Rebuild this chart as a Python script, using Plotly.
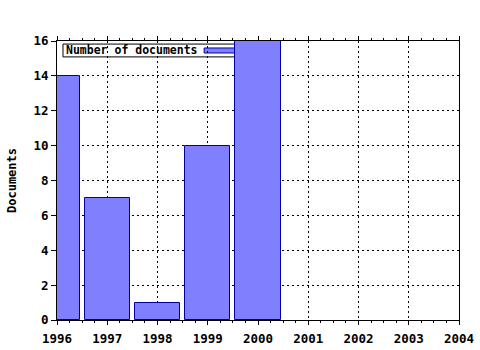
import plotly.graph_objects as go

years = [1996, 1997, 1998, 1999, 2000]
documents = [14, 7, 1, 10, 16]
series_name = "Number of documents"
x_ticks = [1996, 1997, 1998, 1999, 2000, 2001, 2002, 2003, 2004]
y_ticks = [0, 2, 4, 6, 8, 10, 12, 14, 16]

FONT = "DejaVu Sans Mono"
BAR_FILL = "#8080ff"
BAR_LINE = "#0000a0"

fig = go.Figure()
fig.add_trace(go.Bar(
    x=years, y=documents, width=0.9, name=series_name,
    marker=dict(color=BAR_FILL, line=dict(color=BAR_LINE, width=1)),
    showlegend=False,
))

# legend box drawn between grid and bars
fig.add_shape(type="rect", xref="paper", yref="paper",
              x0=0.0149, x1=0.448, y0=0.943, y1=0.989,
              fillcolor="white", line=dict(color="black", width=1), layer="between")
fig.add_shape(type="rect", xref="paper", yref="paper",
              x0=0.366, x1=0.443, y0=0.957, y1=0.975,
              fillcolor=BAR_FILL, line=dict(color=BAR_LINE, width=1), layer="between")
fig.add_annotation(xref="paper", yref="paper", x=0.017, y=0.966,
                   xanchor="left", yanchor="middle", showarrow=False,
                   text="<b>" + series_name + "</b>",
                   font=dict(family=FONT, size=11.5, color="black"))

fig.update_layout(
    width=480, height=350,
    margin=dict(l=57, r=21, t=41, b=30, autoexpand=False),
    paper_bgcolor="white", plot_bgcolor="white",
    font=dict(family=FONT, color="black"),
    bargap=0,
)
fig.update_xaxes(
    range=[1996, 2004], tickvals=x_ticks, ticktext=[f"<b>{v}</b>" for v in x_ticks],
    tickfont=dict(family=FONT, size=12.5, color="black"),
    showline=True, linecolor="black", linewidth=1, mirror="ticks",
    ticks="outside", ticklen=4, tickcolor="black", ticklabelstandoff=3,
    minor=dict(dtick=0.25, ticks="outside", ticklen=2, tickcolor="black", showgrid=False),
    showgrid=True, gridcolor="black", griddash="2px,3px", gridwidth=1,
    zeroline=False, automargin=False,
)
fig.update_yaxes(
    range=[0, 16], tickvals=y_ticks, ticktext=[f"<b>{v}</b>" for v in y_ticks],
    tickfont=dict(family=FONT, size=12.5, color="black"),
    showline=True, linecolor="black", linewidth=1, mirror=True,
    ticks="outside", ticklen=5, tickcolor="black",
    showgrid=True, gridcolor="black", griddash="2px,3px", gridwidth=1,
    zeroline=False, automargin=False,
    title=dict(text="<b>Documents</b>", font=dict(family=FONT, size=12, color="black"), standoff=14),
)

fig.write_html("out.html")
